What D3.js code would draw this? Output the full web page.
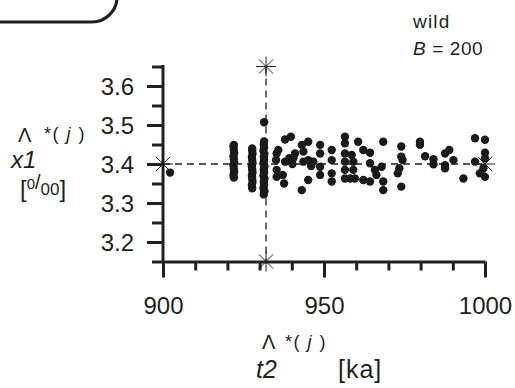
<!DOCTYPE html>
<html><head><meta charset="utf-8">
<script src="https://cdn.jsdelivr.net/npm/d3@7"></script>
<style>
html,body{margin:0;padding:0;background:#fff;}
svg{display:block;font-family:"Liberation Sans",Arial,Helvetica,sans-serif;}
</style></head>
<body><svg id="c" width="515" height="388"></svg>
<script>
// ---- data (t2 in ka, x1 in per mil) ----
const t2 = [902.2,
 922.0,921.9,922.1,922.0,921.9,922.1,922.0,921.9,922.1,922.0,921.9,922.0,
 927.7,927.6,927.8,927.7,927.6,927.8,927.7,927.6,927.8,927.7,927.6,927.8,927.7,927.7,
 931.3,931.5,931.2,931.4,931.3,931.5,931.2,931.4,931.3,931.5,931.2,931.4,931.3,931.5,931.2,931.4,931.3,931.4,931.4,
 935.3,935.1,935.3,935.3,935.8,937.2,937.6,937.9,939.7,937.9,939.2,940.5,941.0,943.1,945.1,943.6,943.6,945.1,946.7,
 948.8,948.8,948.8,948.8,945.1,943.1,952.4,952.4,952.4,952.4,940.2,946.0,
 956.5,956.5,956.5,956.5,956.5,956.5,958.1,959.6,958.6,959.1,959.1,960.6,962.2,964.3,962.2,964.3,964.3,965.8,966.3,
 967.9,968.4,968.4,968.4,974.0,974.0,973.4,972.9,974.0,974.4,
 979.8,979.8,981.4,984.0,984.0,987.6,988.9,987.6,987.6,990.2,993.3,996.9,1000.0,996.9,1000.0,1000.0,998.4,1000.0,999.5];
const x1 = [3.378,
 3.365,3.372,3.380,3.388,3.396,3.404,3.412,3.420,3.428,3.436,3.444,3.449,
 3.338,3.346,3.354,3.362,3.370,3.378,3.386,3.394,3.402,3.410,3.418,3.426,3.434,3.440,
 3.322,3.330,3.338,3.346,3.354,3.362,3.370,3.378,3.386,3.394,3.402,3.410,3.418,3.426,3.434,3.442,3.450,3.458,3.507,
 3.427,3.410,3.385,3.367,3.436,3.372,3.350,3.463,3.470,3.406,3.415,3.415,3.427,3.449,3.457,3.432,3.406,3.410,3.406,
 3.449,3.427,3.393,3.372,3.359,3.333,3.436,3.410,3.376,3.355,3.400,3.395,
 3.470,3.453,3.427,3.406,3.385,3.363,3.363,3.363,3.423,3.406,3.385,3.457,3.436,3.429,3.359,3.355,3.402,3.385,3.372,
 3.393,3.457,3.355,3.333,3.445,3.419,3.389,3.376,3.342,3.410,
 3.457,3.449,3.420,3.412,3.399,3.427,3.436,3.397,3.389,3.410,3.363,3.466,3.462,3.406,3.429,3.415,3.376,3.367,3.389];
const xTicks = [900,910,920,930,940,950,960,970,980,990,1000];
const xMajor = [900,950,1000];
const yTicks = [3.15,3.2,3.25,3.3,3.35,3.4,3.45,3.5,3.55,3.6,3.65];
const yMajor = [3.2,3.3,3.4,3.5,3.6];
const refT2 = 932, refX1 = 3.4;
const starPts = [[900,3.4],[1000,3.4],[932,3.65],[932,3.15]];
const legendLines = ["wild","B = 200"];

const ink = "#231f20";
const svg = d3.select("#c");
const x = d3.scaleLinear().domain([900,1000]).range([163,485]);
const y = d3.scaleLinear().domain([3.15,3.65]).range([261.5,66.5]);

// rounded box remnant top-left
svg.append("path").attr("d","M-5,22 L92,22 A25,25 0 0 0 117,-3")
  .attr("fill","none").attr("stroke",ink).attr("stroke-width",3.2);

// dashed reference lines
svg.append("line").attr("x1",x(900)).attr("x2",x(1000)).attr("y1",y(refX1)).attr("y2",y(refX1))
  .attr("stroke",ink).attr("stroke-width",1.3).attr("stroke-dasharray","7,5");
svg.append("line").attr("x1",x(refT2)).attr("x2",x(refT2)).attr("y1",y(3.65)).attr("y2",y(3.15))
  .attr("stroke",ink).attr("stroke-width",1.3).attr("stroke-dasharray","7,5");

// points
svg.append("g").selectAll("circle").data(t2.map((d,i)=>[d,x1[i]])).join("circle")
  .attr("cx",d=>x(d[0])).attr("cy",d=>y(d[1])).attr("r",4.2).attr("fill","#1a1a1a");

// axes
const xAxis = d3.axisBottom(x).tickValues(xTicks).tickSizeOuter(0)
  .tickFormat(d=>xMajor.includes(d)?d3.format("d")(d):"");
const gx = svg.append("g").attr("transform",`translate(0,${y(3.15)})`).call(xAxis);
gx.select(".domain").attr("stroke",ink).attr("stroke-width",3);
gx.selectAll(".tick line").attr("stroke",ink).attr("stroke-width",3)
  .attr("y2",d=>xMajor.includes(d)?16:9);
gx.selectAll(".tick text").attr("y",52).attr("dy",0).attr("fill",ink)
  .style("font-size","24px").style("font-family","'Liberation Sans',Arial,sans-serif");

const yAxis = d3.axisLeft(y).tickValues(yTicks).tickSizeOuter(0)
  .tickFormat(d=>yMajor.some(m=>Math.abs(m-d)<1e-9)?d3.format(".1f")(d):"");
const gy = svg.append("g").attr("transform",`translate(${x(900)},0)`).call(yAxis);
gy.select(".domain").attr("stroke",ink).attr("stroke-width",3).attr("d",`M0,${y(3.65)-1.5}V${y(3.15)}`);
gy.selectAll(".tick line").attr("stroke",ink).attr("stroke-width",3)
  .attr("x2",d=>yMajor.some(m=>Math.abs(m-d)<1e-9)?-16:-11);
gy.selectAll(".tick text").attr("x",-29).attr("dy","0.36em").attr("fill",ink)
  .style("font-size","24px").style("font-family","'Liberation Sans',Arial,sans-serif");

// asterisk markers
const star = svg.append("g").attr("stroke",ink).attr("stroke-width",1).attr("fill","none");
starPts.forEach(p=>{
  const cx=x(p[0]), cy=y(p[1]), r=10, q=7.1;
  star.append("path").attr("d",`M${cx-r},${cy}H${cx+r}M${cx},${cy-r}V${cy+r}M${cx-q},${cy-q}L${cx+q},${cy+q}M${cx-q},${cy+q}L${cx+q},${cy-q}`);
});

// legend text
const lg = svg.append("g").attr("fill",ink).style("font-size","19px");
lg.append("text").attr("x",413).attr("y",28).style("letter-spacing","1.2px").text(legendLines[0]);
const t2l = lg.append("text").attr("x",413).attr("y",55).style("letter-spacing","0.6px");
t2l.append("tspan").style("font-style","italic").text("B");
t2l.append("tspan").text(" = 200");

// y label
const yl = svg.append("g").attr("fill",ink);
yl.append("text").attr("x",18).attr("y",142).style("font-size","20px").text("\u039B");
const ys = yl.append("text").attr("x",44).attr("y",140).style("font-size","18px").style("letter-spacing","1.5px");
ys.append("tspan").text("*(");
ys.append("tspan").style("font-style","italic").text(" j ");
ys.append("tspan").text(")");
yl.append("text").attr("x",11).attr("y",168).style("font-size","24px").style("font-style","italic").text("x1");
const yu = yl.append("text").attr("x",20).attr("y",197).style("font-size","24px");
yu.append("tspan").text("[");
yu.append("tspan").attr("dy",-8).style("font-size","15px").text("0");
yu.append("tspan").attr("dy",0).style("font-size","20px").text("/");
yu.append("tspan").attr("dy",6).style("font-size","17px").text("00");
yu.append("tspan").attr("dy",2).text("]");

// x label
const xl = svg.append("g").attr("fill",ink);
xl.append("text").attr("x",262).attr("y",349).style("font-size","20px").text("\u039B");
const xs = xl.append("text").attr("x",285).attr("y",348).style("font-size","18px").style("letter-spacing","1.5px");
xs.append("tspan").text("*(");
xs.append("tspan").style("font-style","italic").text(" j ");
xs.append("tspan").text(")");
xl.append("text").attr("x",256).attr("y",378).style("font-size","25px").style("font-style","italic").text("t2");
xl.append("text").attr("x",338).attr("y",378).style("font-size","25px").style("letter-spacing","1px").text("[ka]");
</script></body></html>
